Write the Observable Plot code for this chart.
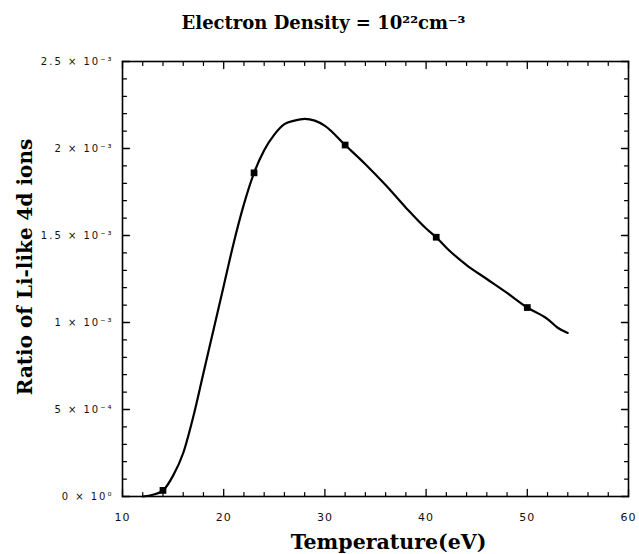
<!DOCTYPE html>
<html>
<head>
<meta charset="utf-8">
<script src="https://cdn.jsdelivr.net/npm/d3@7"></script>
<script src="https://cdn.jsdelivr.net/npm/@observablehq/plot@0.6"></script>
<style>
  html, body { margin: 0; padding: 0; background: #fff; }
</style>
</head>
<body>
<div id="chart"></div>
<script>
// Curve (temperature in eV, ratio)
const curveT = [12, 13, 14, 15, 16, 17, 18, 19, 20, 21, 22, 23, 24, 25, 26, 27, 28, 29, 30, 32, 34, 36, 38, 40, 41, 42, 44, 46, 48, 50, 52, 53, 54];
const curveR = [0.0, 0.00001, 0.000035, 0.00012, 0.00025, 0.00046, 0.00071, 0.00096, 0.00121, 0.00146, 0.00168, 0.00186, 0.00199, 0.00208, 0.00214, 0.00216, 0.00217, 0.00216, 0.00213, 0.00202, 0.00191, 0.00179, 0.00166, 0.00154, 0.00149, 0.00143, 0.00133, 0.00125, 0.00117, 0.001086, 0.00102, 0.00097, 0.00094];
// Computed points (markers)
const pointT = [14, 23, 32, 41, 50];
const pointR = [0.000035, 0.00186, 0.00202, 0.00149, 0.001086];
// Ticks
const xMajor = [10, 20, 30, 40, 50, 60];
const xMinor = [12, 14, 16, 18, 22, 24, 26, 28, 32, 34, 36, 38, 42, 44, 46, 48, 52, 54, 56, 58];
const yMajor = [0, 0.0005, 0.001, 0.0015, 0.002, 0.0025];
const yMajorLabels = ["0 × 10⁰", "5 × 10⁻⁴", "1 × 10⁻³", "1.5 × 10⁻³", "2 × 10⁻³", "2.5 × 10⁻³"];
const yMinor = [0.0001, 0.0002, 0.0003, 0.0004, 0.0006, 0.0007, 0.0008, 0.0009, 0.0011, 0.0012, 0.0013, 0.0014, 0.0016, 0.0017, 0.0018, 0.0019, 0.0021, 0.0022, 0.0023, 0.0024];

const titleText = "Electron Density = 10²²cm⁻³";
const xLabel = "Temperature(eV)";
const yLabel = "Ratio of Li-like 4d ions";

const curve = curveT.map((t, i) => ({t, r: curveR[i]}));
const points = pointT.map((t, i) => ({t, r: pointR[i]}));
const yLabelMap = new Map(yMajor.map((v, i) => [v, yMajorLabels[i]]));

const serif = "'DejaVu Serif', 'Liberation Serif', serif";
const sans = "'DejaVu Sans', 'Liberation Sans', sans-serif";

// straight tick shape for vectors
const tickShape = {draw(ctx, l) { ctx.moveTo(0, 0); ctx.lineTo(0, -l); }};
const ticksX = (vals, side, len, sw) => Plot.vector(vals, {
  x: d => d, frameAnchor: side, length: len, rotate: side === "bottom" ? 0 : 180,
  anchor: "start", shape: tickShape, stroke: "#000", strokeWidth: sw
});
const ticksY = (vals, side, len, sw) => Plot.vector(vals, {
  y: d => d, frameAnchor: side, length: len, rotate: side === "left" ? 90 : -90,
  anchor: "start", shape: tickShape, stroke: "#000", strokeWidth: sw
});

const plot = Plot.plot({
  width: 639,
  height: 554,
  marginLeft: 122,
  marginRight: 11,
  marginTop: 61,
  marginBottom: 58,
  style: {background: "#fff", color: "#000"},
  x: {domain: [10, 60], axis: null},
  y: {domain: [0, 0.0025], axis: null},
  marks: [
    // inward ticks, all four sides
    ticksX(xMajor, "bottom", 7, 1.3),
    ticksX(xMinor, "bottom", 4, 1.2),
    ticksX(xMajor, "top", 7, 1.3),
    ticksX(xMinor, "top", 4, 1.2),
    ticksY(yMajor, "left", 7, 1.3),
    ticksY(yMinor, "left", 4, 1.2),
    ticksY(yMajor, "right", 7, 1.3),
    ticksY(yMinor, "right", 4, 1.2),
    // tick labels
    Plot.axisX(xMajor, {anchor: "bottom", tickSize: 0, tickPadding: 17, label: null, fontSize: 11, fontFamily: sans, fill: "#111"}),
    Plot.axisY(yMajor, {anchor: "left", tickSize: 0, tickPadding: 9, label: null, tickFormat: d => yLabelMap.get(d), fontSize: 10, fontFamily: sans, fill: "#111"}),
    Plot.frame({stroke: "#000", strokeWidth: 1.6}),
    Plot.line(curve, {x: "t", y: "r", curve: "monotone-x", stroke: "#000", strokeWidth: 2.2}),
    Plot.dot(points, {x: "t", y: "r", symbol: "square", r: 3.8, fill: "#000", stroke: "none"}),
    // titles
    Plot.text([titleText], {frameAnchor: "top", text: d => d, dy: -45, dx: -52, fontSize: 18, fontWeight: "bold", fontFamily: serif}),
    Plot.text([xLabel], {frameAnchor: "bottom", text: d => d, dy: 52, dx: 13, fontSize: 20.5, fontWeight: "bold", fontFamily: serif}),
    Plot.text([yLabel], {frameAnchor: "left", textAnchor: "middle", text: d => d, dx: -97, dy: -12, rotate: -90, fontSize: 20, fontWeight: "bold", fontFamily: serif})
  ]
});
// wider letter spacing on the small tick labels, as in the reference
d3.select(plot).selectAll("g[aria-label='y-axis tick label'] text").style("letter-spacing", "2px");
d3.select(plot).selectAll("g[aria-label='x-axis tick label'] text").style("letter-spacing", "1px");
document.getElementById("chart").appendChild(plot);
</script>
</body>
</html>
